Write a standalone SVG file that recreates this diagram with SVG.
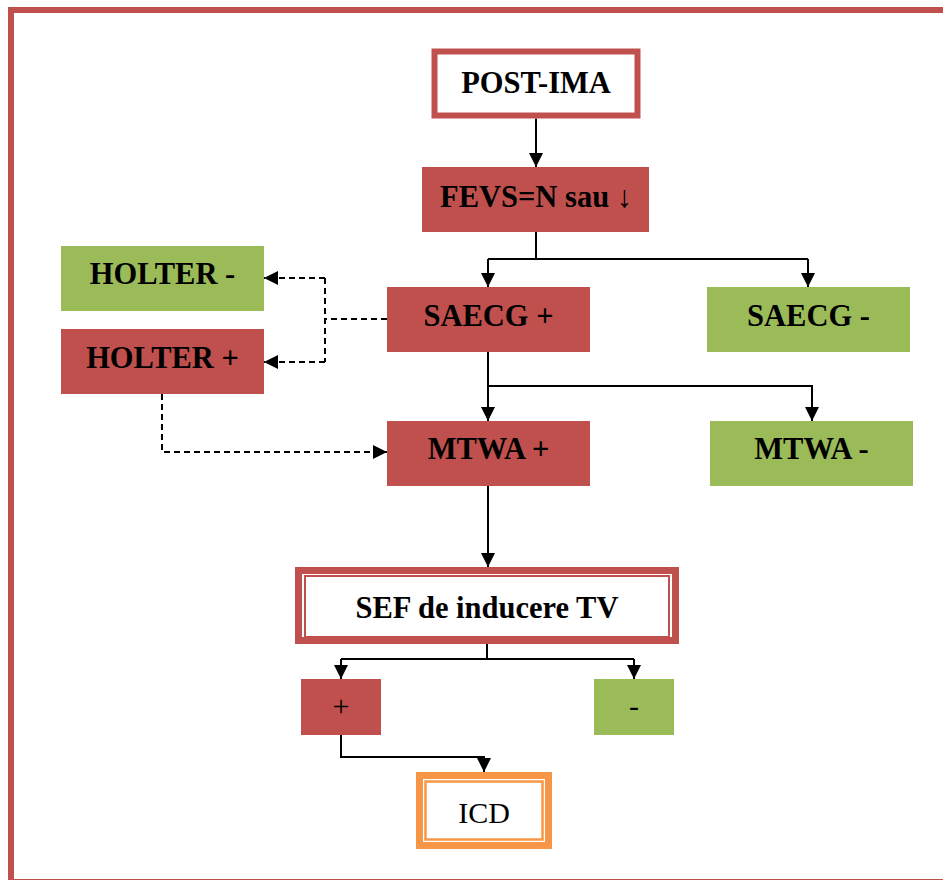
<svg xmlns="http://www.w3.org/2000/svg" width="943" height="880" viewBox="0 0 943 880">
<style>
.red{fill:#C0504D}
.green{fill:#9BBB59}
.t{font-family:"Liberation Serif","Times New Roman",serif;font-size:30.5px;font-weight:bold;fill:#000;text-anchor:middle}
.r{font-family:"Liberation Serif","Times New Roman",serif;font-size:30px;fill:#000;text-anchor:middle}
.c{fill:none;stroke:#000;stroke-width:2}
.d{fill:none;stroke:#000;stroke-width:2;stroke-dasharray:6 4}
</style>
<defs>
<marker id="ah" markerUnits="userSpaceOnUse" markerWidth="14" markerHeight="14" refX="14" refY="7" orient="auto">
<path d="M0,0 L14,7 L0,14 z" fill="#000"/>
</marker>
</defs>
<rect x="11" y="10" width="940" height="872" fill="none" stroke="#C0504D" stroke-width="6"/>
<g id="connectors">
<path class="c" d="M536,118.5 V167" marker-end="url(#ah)"/>
<path class="c" d="M536,232 V259 M488,259 H808"/>
<path class="c" d="M488,259 V287" marker-end="url(#ah)"/>
<path class="c" d="M808,259 V287" marker-end="url(#ah)"/>
<path class="c" d="M488,352 V421" marker-end="url(#ah)"/>
<path class="c" d="M488,386 H812 V421" marker-end="url(#ah)"/>
<path class="c" d="M488,486 V567" marker-end="url(#ah)"/>
<path class="c" d="M487,644 V659 M341,659 H634"/>
<path class="c" d="M341,659 V679" marker-end="url(#ah)"/>
<path class="c" d="M634,659 V679" marker-end="url(#ah)"/>
<path class="c" d="M341,735 V757 H484 V772" marker-end="url(#ah)"/>
<path class="d" d="M387,319 H325"/>
<path class="d" d="M325,278 V362"/>
<path class="d" d="M325,278 H264" marker-end="url(#ah)"/>
<path class="d" d="M325,362 H264" marker-end="url(#ah)"/>
<path class="d" d="M162,394 V452 H387" marker-end="url(#ah)"/>
</g>
<g id="post-ima">
<rect x="434.5" y="51.5" width="203" height="64" fill="#fff" stroke="#C0504D" stroke-width="6"/>
<text class="t" x="536" y="93">POST-IMA</text>
</g>
<g id="fevs">
<rect class="red" x="422" y="167" width="227" height="65"/>
<text class="t" x="536" y="207">FEVS=N sau ↓</text>
</g>
<g id="holter-minus">
<rect class="green" x="61" y="246" width="203" height="65"/>
<text class="t" x="162.5" y="283.5">HOLTER -</text>
</g>
<g id="holter-plus">
<rect class="red" x="61" y="329" width="203" height="65"/>
<text class="t" x="162.5" y="368">HOLTER +</text>
</g>
<g id="saecg-plus">
<rect class="red" x="387" y="287" width="203" height="65"/>
<text class="t" x="488.5" y="325.5">SAECG +</text>
</g>
<g id="saecg-minus">
<rect class="green" x="707" y="287" width="203" height="65"/>
<text class="t" x="808.5" y="325.5">SAECG -</text>
</g>
<g id="mtwa-plus">
<rect class="red" x="387" y="421" width="203" height="65"/>
<text class="t" x="488.5" y="459">MTWA +</text>
</g>
<g id="mtwa-minus">
<rect class="green" x="710" y="421" width="203" height="65"/>
<text class="t" x="811.5" y="459">MTWA -</text>
</g>
<g id="sef">
<rect x="298.5" y="570.5" width="377" height="70" fill="#fff" stroke="#C0504D" stroke-width="7"/>
<rect x="305" y="576" width="364" height="61" fill="none" stroke="#C0504D" stroke-width="2"/>
<text class="t" x="487" y="617.5">SEF de inducere TV</text>
</g>
<g id="plus">
<rect class="red" x="301" y="679" width="80" height="56"/>
<text class="r" x="341" y="716">+</text>
</g>
<g id="minus">
<rect class="green" x="594" y="679" width="80" height="56"/>
<text class="r" x="634" y="716">-</text>
</g>
<g id="icd">
<rect x="419.5" y="775.5" width="129" height="70" fill="#fff" stroke="#F79646" stroke-width="7"/>
<rect x="425.5" y="781.5" width="117" height="58" fill="none" stroke="#F79646" stroke-width="2.5"/>
<text class="r" x="484" y="822.5">ICD</text>
</g>
</svg>
